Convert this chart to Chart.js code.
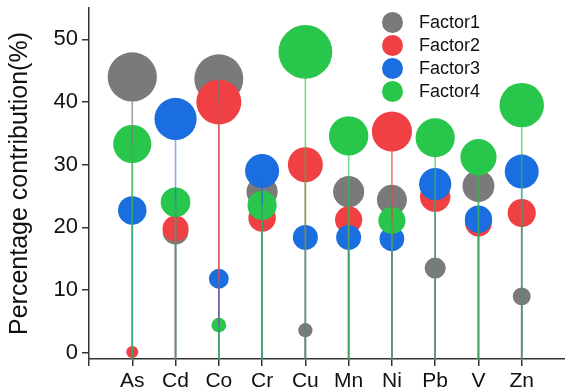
<!DOCTYPE html>
<html>
<head>
<meta charset="utf-8">
<script src="https://cdn.jsdelivr.net/npm/chart.js@4.4.0/dist/chart.umd.min.js"></script>
<style>
  body { margin: 0; background: #fff; }
  #wrap { position: relative; width: 565px; height: 392px; }
  .legend {
    position: absolute; left: 382px; top: 11px;
    font-family: "Liberation Sans", Arial, sans-serif; font-size: 18px; color: #111;
  }
  .legend .item { display: flex; align-items: center; height: 23px; }
  .legend .dot { width: 21px; height: 21px; border-radius: 50%; margin-right: 16px; }
</style>
</head>
<body>
<div id="wrap">
  <canvas id="chart" width="565" height="392"></canvas>
  <div class="legend" id="legend"></div>
</div>
<script>
// ====== Data ======
const categories = ["As", "Cd", "Co", "Cr", "Cu", "Mn", "Ni", "Pb", "V", "Zn"];
const factorNames = ["Factor1", "Factor2", "Factor3", "Factor4"];
const factor1 = [44.0, 19.3, 43.7, 25.7, 3.6, 25.7, 24.4, 13.5, 26.6, 9.0];
const factor2 = [0.1, 19.8, 40.0, 21.5, 30.0, 21.2, 35.3, 24.9, 20.7, 22.3];
const factor3 = [22.7, 37.3, 11.8, 29.0, 18.4, 18.4, 18.2, 26.9, 21.3, 28.9];
const factor4 = [33.3, 24.0, 4.4, 23.5, 48.0, 34.6, 21.1, 34.3, 31.2, 39.5];
const yTicks = [0, 10, 20, 30, 40, 50];

const colors = ["#7a7a7a", "#f04043", "#1a6edf", "#28c64b"];
const stemColors = [
  "rgba(122,122,122,0.7)",
  "rgba(240,64,67,0.7)",
  "rgba(26,110,223,0.55)",
  "rgba(40,198,75,0.65)",
];
const series = [factor1, factor2, factor3, factor4];

// bubble radius grows with the contribution
function bubbleRadius(v) {
  return 6 + 0.3 * v + 0.0028 * v * v;
}

// ====== Stems (drawn over the bubbles) ======
const stemPlugin = {
  id: "stems",
  afterDatasetsDraw(chart) {
    const { ctx, scales } = chart;
    const x = scales.x, y = scales.y;
    ctx.save();
    ctx.lineWidth = 1.6;
    series.forEach((vals, s) => {
      ctx.strokeStyle = stemColors[s];
      vals.forEach((v, i) => {
        const px = x.getPixelForValue(i + 1);
        ctx.beginPath();
        ctx.moveTo(px, y.bottom);
        ctx.lineTo(px, y.getPixelForValue(v));
        ctx.stroke();
      });
    });
    ctx.restore();
  },
};

const font = "'Liberation Sans', Arial, sans-serif";

function noPadding(scale) {
  scale.paddingLeft = 0;
  scale.paddingRight = 0;
  scale.paddingTop = 0;
  scale.paddingBottom = 0;
}

new Chart(document.getElementById("chart"), {
  type: "bubble",
  data: {
    datasets: series.map((vals, s) => ({
      label: factorNames[s],
      data: vals.map((v, i) => ({ x: i + 1, y: v, r: bubbleRadius(v) })),
      backgroundColor: colors[s],
      borderWidth: 0,
      hoverBorderWidth: 0,
      order: 4 - s,
      clip: false,
    })),
  },
  options: {
    responsive: false,
    animation: false,
    layout: { autoPadding: false, padding: { top: 8, right: 0, left: 0, bottom: 0 } },
    plugins: { legend: { display: false }, tooltip: { enabled: false } },
    scales: {
      x: {
        type: "linear",
        min: 0,
        max: 11,
        afterBuildTicks: (scale) => {
          scale.ticks = categories.map((c, i) => ({ value: i + 1 }));
          scale.ticks.unshift({ value: 0 });
        },
        afterFit: (scale) => { scale.height = 33; noPadding(scale); },
        ticks: {
          autoSkip: false,
          maxRotation: 0,
          padding: 3,
          color: "#111",
          font: { family: font, size: 21 },
          callback: (v) => categories[v - 1] || "",
        },
        grid: { drawOnChartArea: false, drawTicks: true, tickLength: 7, color: "#333", lineWidth: 1.5 },
        border: { display: true, color: "#333", width: 1.5 },
      },
      y: {
        min: -1,
        max: 55,
        afterBuildTicks: (scale) => {
          scale.ticks = yTicks.map((v) => ({ value: v }));
        },
        afterFit: (scale) => { scale.width = 89; noPadding(scale); },
        ticks: {
          padding: 4,
          color: "#111",
          font: { family: font, size: 22 },
        },
        title: {
          display: true,
          text: "Percentage contribution(%)",
          color: "#111",
          font: { family: font, size: 25 },
          padding: { top: 5, bottom: 0 },
        },
        grid: { drawOnChartArea: false, drawTicks: true, tickLength: 7, color: "#333", lineWidth: 1.5 },
        border: { display: true, color: "#333", width: 1.5 },
      },
    },
  },
  plugins: [stemPlugin],
});

// ====== Legend ======
const legend = document.getElementById("legend");
factorNames.forEach((name, s) => {
  const item = document.createElement("div");
  item.className = "item";
  item.innerHTML = `<span class="dot" style="background:${colors[s]}"></span><span>${name}</span>`;
  legend.appendChild(item);
});
</script>
</body>
</html>
